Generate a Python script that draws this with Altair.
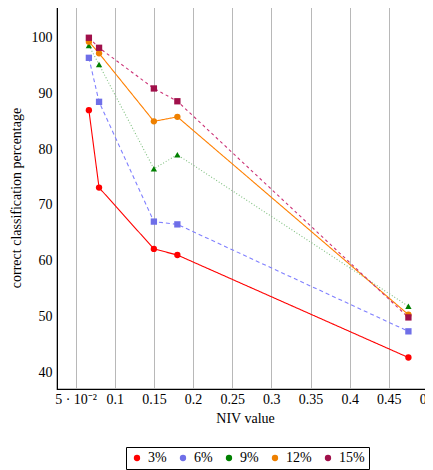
import altair as alt
import pandas as pd

niv = [0.067, 0.08, 0.15, 0.18, 0.475]
series = ["3%", "6%", "9%", "12%", "15%"]
vals = {
    "3%": [87.0, 73.1, 62.1, 61.0, 42.6],
    "6%": [96.4, 88.5, 67.0, 66.5, 47.3],
    "9%": [98.6, 95.2, 76.5, 79.0, 51.8],
    "12%": [99.3, 97.2, 85.0, 85.8, 50.3],
    "15%": [100.0, 98.2, 90.9, 88.6, 49.8],
}
line_colors = ["#ff0000", "#8080ff", "#80c080", "#ff8000", "#cc3377"]
marker_colors = ["#ff0000", "#6f6fe8", "#008000", "#ee8000", "#a0104a"]
shapes = ["circle", "square", "triangle-up", "circle", "square"]
dashes = [[1, 0], [4, 3], [1, 2], [1, 0], [3, 3]]
xticks = [0.05, 0.1, 0.15, 0.2, 0.25, 0.3, 0.35, 0.4, 0.45, 0.5]
yticks = [40, 50, 60, 70, 80, 90, 100]

rows = []
for i, s in enumerate(series):
    for x, y in zip(niv, vals[s]):
        rows.append({"series": s, "line_series": s, "shape_key": s, "order": i, "niv": x, "pct": y})
df = pd.DataFrame(rows)

font = "Liberation Serif"
fs = 14
xs = alt.Scale(domain=[0.0263, 0.5064], nice=False, zero=False)
ys = alt.Scale(domain=[36.95, 105.7], nice=False, zero=False)

legend = alt.Legend(title=None, orient="none", legendX=69, legendY=441,
                    direction="horizontal", columns=5, strokeColor="black",
                    padding=4, symbolSize=40, labelFontSize=fs,
                    labelFont=font, columnPadding=9, symbolStrokeWidth=0)

base = alt.Chart(df)

lines = base.mark_line(strokeWidth=1.1).encode(
    x=alt.X("niv:Q", scale=xs, title="NIV value",
            axis=alt.Axis(values=xticks, grid=True, gridColor="#b8b8b8", gridWidth=1,
                          ticks=False, domainColor="black", labelPadding=3,
                          labelExpr="datum.value < 0.06 ? '5 · 10⁻²' : format(datum.value, '.2~f')",
                          titlePadding=5)),
    y=alt.Y("pct:Q", scale=ys, title="correct classification percentage",
            axis=alt.Axis(values=yticks, grid=False, ticks=False, domainColor="black",
                          labelPadding=5, titlePadding=8)),
    color=alt.Color("line_series:N", scale=alt.Scale(domain=series, range=line_colors), legend=None),
    strokeDash=alt.StrokeDash("line_series:N", scale=alt.Scale(domain=series, range=dashes), legend=None),
    detail="line_series:N",
    order="niv:Q",
)

points = base.mark_point(filled=True, size=40, opacity=1).encode(
    x=alt.X("niv:Q", scale=xs),
    y=alt.Y("pct:Q", scale=ys),
    color=alt.Color("series:N", scale=alt.Scale(domain=series, range=marker_colors),
                    legend=legend),
    shape=alt.Shape("shape_key:N", scale=alt.Scale(domain=series, range=shapes),
                    legend=None),
    order="order:Q",
)

chart = alt.layer(lines, points).resolve_scale(color="independent").properties(
    width=376, height=383,
    autosize=alt.AutoSizeParams(type="none"),
    padding={"left": 49, "top": -2, "right": -8, "bottom": 81},
).configure_view(stroke="black", strokeWidth=1.2).configure_axis(
    labelFont=font, titleFont=font, labelFontSize=fs, titleFontSize=fs,
    titleFontWeight="normal", labelColor="black", titleColor="black",
)

chart.save("out.html", embed_options={"renderer": "svg", "actions": False})
